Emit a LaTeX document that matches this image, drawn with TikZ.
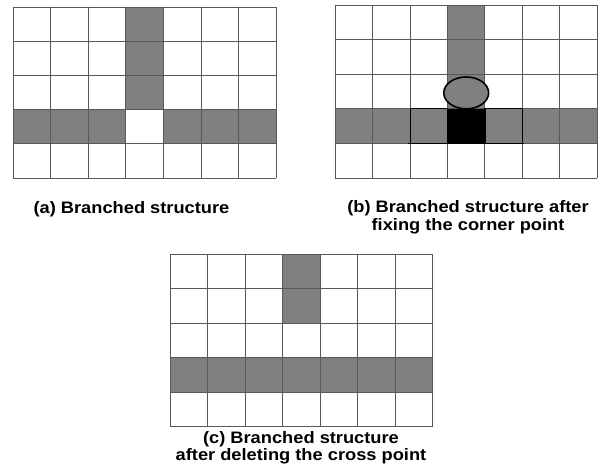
\documentclass[tikz,border=0pt]{standalone}
\usepackage{fontspec}
\newfontfamily\capfont[FakeStretch=1.1]{Liberation Sans}
\tikzset{
  gridline/.style={draw=black!65, line width=0.9pt},
  cellgray/.style={fill=black!50},
  cellblack/.style={fill=black},
  thickout/.style={draw=black, line width=1.2pt},
  ring/.style={draw=black, line width=1.6pt, fill=black!50},
  captext/.style={font=\capfont\bfseries\fontsize{16.6}{18}\selectfont, inner sep=0pt, anchor=base, align=center}
}
\newcommand{\gridlinesseven}{%
  \foreach \i in {0,...,7} \draw[gridline] (\i,0) -- (\i,5);
  \foreach \j in {0,...,5} \draw[gridline] (0,\j) -- (7,\j);
}
\begin{document}
\begin{tikzpicture}[x=1pt,y=-1pt]
\useasboundingbox (0,0) rectangle (601,473);
\fill[white] (0,0) rectangle (601,473);

% (a)
\begin{scope}[shift={(13pt,-7pt)}, x=37.6pt, y=-34.2pt]
  \fill[cellgray] (3,0) rectangle (4,3);
  \fill[cellgray] (0,3) rectangle (3,4);
  \fill[cellgray] (4,3) rectangle (7,4);
  \gridlinesseven
\end{scope}

% (b)
\begin{scope}[shift={(335.3pt,-5pt)}, x=37.4pt, y=-34.6pt]
  \fill[cellgray] (3,0) rectangle (4,3);
  \fill[cellgray] (0,3) rectangle (3,4);
  \fill[cellgray] (4,3) rectangle (7,4);
  \fill[cellblack] (3,3) rectangle (4,4);
  \gridlinesseven
  \draw[thickout] (2,3) rectangle (3,4);
  \draw[thickout] (4,3) rectangle (5,4);
  \draw[thickout] (1.95,4) -- (5.05,4);
  \draw[ring] (3.5,2.54) ellipse [x radius=0.6, y radius=0.46];
\end{scope}

% (c)
\begin{scope}[shift={(170.3pt,-254pt)}, x=37.5pt, y=-34.5pt]
  \fill[cellgray] (3,0) rectangle (4,2);
  \fill[cellgray] (0,3) rectangle (7,4);
  \gridlinesseven
\end{scope}

\node[captext] (capa) at (131.5,213) {(a) Branched structure};
\node[captext] (capb1) at (468,212) {(b) Branched structure after};
\node[captext] (capb2) at (468,230.5) {fixing the corner point};
\node[captext] (capc1) at (301,443) {(c) Branched structure};
\node[captext] (capc2) at (301,460.5) {after deleting the cross point};
\end{tikzpicture}
\end{document}
